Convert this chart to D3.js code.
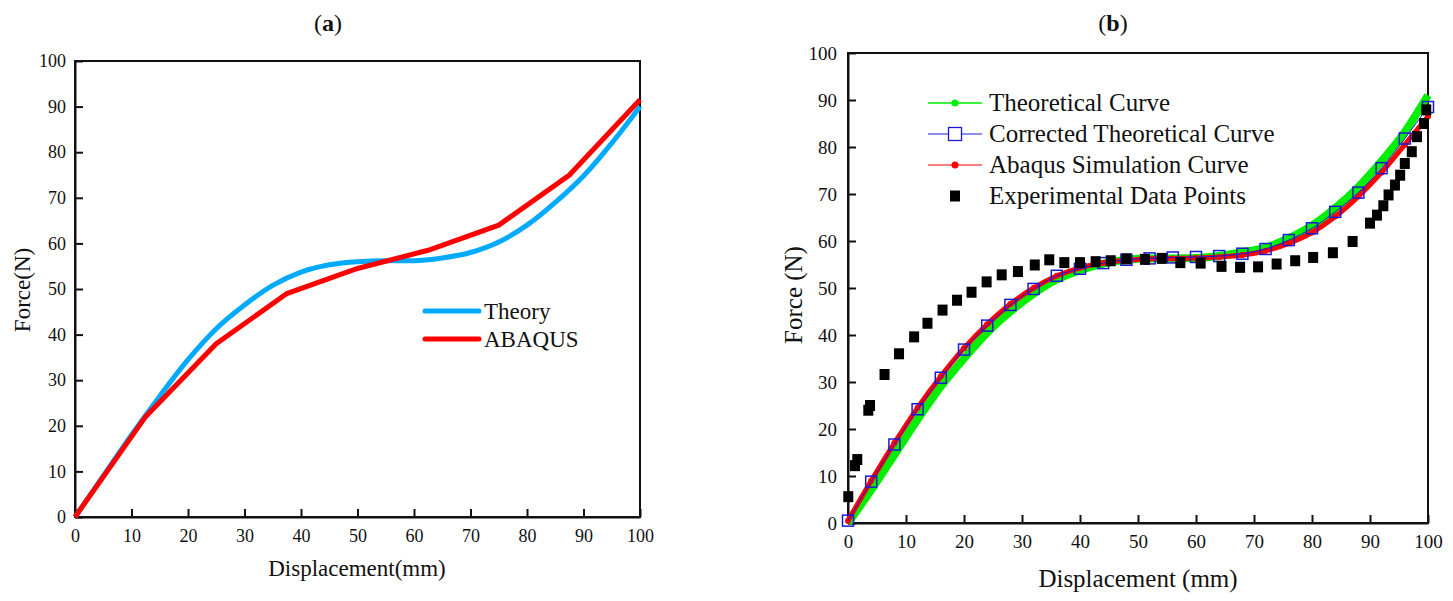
<!DOCTYPE html>
<html>
<head>
<meta charset="utf-8">
<script src="https://cdn.jsdelivr.net/npm/d3@7"></script>
<style>
  body { margin: 0; background: #fff; }
  svg text { font-family: "Liberation Serif", "Times New Roman", Times, "DejaVu Serif", serif !important; fill: #111; }
</style>
</head>
<body>
<svg id="chart" width="1453" height="601"></svg>
<script>
// ---- panel (a) data ----
const theoryX = [0, 5, 10, 15, 20, 25, 30, 35, 40, 45, 50, 55, 60, 65, 70, 75, 80, 85, 90, 95, 100];
const theoryY = [0, 9, 18, 26.5, 34.5, 41.3, 46.5, 50.8, 53.7, 55.3, 56, 56.2, 56.2, 56.8, 58, 60.3, 64, 69, 74.8, 82, 90];
const abaqusX = [0, 12.5, 25, 37.5, 50, 62.5, 75, 87.5, 100];
const abaqusY = [0, 22, 38, 49, 54.5, 58.5, 64, 75, 91.5];

// ---- panel (b) data ----
const dispB = [0, 4, 8, 12, 16, 20, 24, 28, 32, 36, 40, 44, 48, 52, 56, 60, 64, 68, 72, 76, 80, 84, 88, 92, 96, 100];
const theoreticalB = [0, 7, 14.5, 22, 29, 35, 40.5, 45, 48.8, 51.8, 53.8, 55.2, 56, 56.3, 56.3, 56.4, 56.8, 57.6, 58.6, 60.6, 63.3, 67, 71.5, 77, 83.2, 91];
const correctedB = [0.5, 8.8, 16.7, 24.2, 30.9, 36.9, 42.0, 46.4, 49.8, 52.6, 54.1, 55.3, 56, 56.3, 56.5, 56.6, 56.8, 57.3, 58.3, 60.2, 62.7, 66.2, 70.3, 75.5, 81.8, 88.5];
const simulationB = [0.5, 9, 17, 24.5, 31.2, 37.2, 42.3, 46.6, 50, 52.6, 54.3, 55.3, 55.9, 56.2, 56.3, 56.4, 56.6, 57, 57.9, 59.5, 61.8, 65.2, 69.5, 74.6, 80.5, 86.5];
const expX = [0.05, 1.2, 1.6, 3.5, 3.8, 6.3, 8.8, 11.4, 13.7, 16.3, 18.8, 21.3, 23.9, 26.5, 29.3, 32.2, 34.7, 37.3, 40.0, 42.7, 45.3, 48.0, 51.2, 54.1, 57.3, 60.8, 64.4, 67.6, 70.7, 73.9, 77.1, 80.2, 83.6, 87.0, 90.0, 91.2, 92.3, 93.2, 94.3, 95.2, 96.0, 97.2, 98.1, 99.3, 99.7];
const expY = [5.6, 12.2, 13.5, 24, 25, 31.6, 36.0, 39.6, 42.5, 45.3, 47.4, 49.1, 51.3, 52.8, 53.5, 54.9, 56.0, 55.4, 55.4, 55.6, 55.8, 56.2, 56.1, 56.3, 55.4, 55.3, 54.6, 54.4, 54.5, 55.1, 55.8, 56.5, 57.5, 59.9, 63.8, 65.5, 67.5, 69.8, 71.9, 74.0, 76.5, 79.0, 82.2, 85.0, 87.9];

const ticks = [0, 10, 20, 30, 40, 50, 60, 70, 80, 90, 100];
const SERIF = '"Liberation Serif", "Times New Roman", Times, "DejaVu Serif", serif';

const svg = d3.select("#chart").attr("font-family", SERIF);

function frame(g, x, y, w, h, fs, padX, padY) {
  g.append("g")
    .attr("transform", "translate(0," + h + ")")
    .call(d3.axisBottom(x).tickValues(ticks).tickSizeInner(-8).tickSizeOuter(0).tickPadding(padX).tickFormat(d3.format("d")))
    .call(a => a.selectAll("text").attr("font-size", fs).attr("fill", "#222"));
  g.append("g")
    .call(d3.axisLeft(y).tickValues(ticks).tickSizeInner(-8).tickSizeOuter(0).tickPadding(padY).tickFormat(d3.format("d")))
    .call(a => a.selectAll("text").attr("font-size", fs).attr("fill", "#222"));
  g.selectAll("g").attr("font-family", SERIF);
  g.selectAll(".domain, .tick line").attr("stroke", "#111").attr("stroke-width", 2);
  g.append("rect").attr("width", w).attr("height", h)
    .attr("fill", "none").attr("stroke", "#111").attr("stroke-width", 2);
}

// ================= panel (a) =================
{
  const L = 75, T = 61, W = 565, H = 456;
  const g = svg.append("g").attr("transform", "translate(" + L + "," + T + ")");
  const x = d3.scaleLinear().domain([0, 100]).range([0, W]);
  const y = d3.scaleLinear().domain([0, 100]).range([H, 0]);

  frame(g, x, y, W, H, 18, 12, 9);

  const lineT = d3.line().x((d, i) => x(theoryX[i])).y(d => y(d)).curve(d3.curveMonotoneX);
  g.append("path").datum(theoryY).attr("d", lineT)
    .attr("fill", "none").attr("stroke", "#00aaff").attr("stroke-width", 5);

  const lineA = d3.line().x((d, i) => x(abaqusX[i])).y(d => y(d));
  g.append("path").datum(abaqusY).attr("d", lineA)
    .attr("fill", "none").attr("stroke", "#ff0000").attr("stroke-width", 5);

  // legend
  const leg = [["Theory", "#00aaff"], ["ABAQUS", "#ff0000"]];
  leg.forEach((d, i) => {
    const ly = 311 - T + i * 28;
    g.append("line").attr("x1", 425 - L).attr("x2", 479 - L).attr("y1", ly).attr("y2", ly)
      .attr("stroke", d[1]).attr("stroke-width", 5).attr("stroke-linecap", "round");
    g.append("text").attr("x", 484 - L).attr("y", ly + 8).attr("font-size", 23).text(d[0]);
  });

  svg.append("text").attr("x", 357).attr("y", 576).attr("text-anchor", "middle")
    .attr("font-size", 23).text("Displacement(mm)");
  svg.append("text").attr("transform", "translate(30,290) rotate(-90)").attr("text-anchor", "middle")
    .attr("font-size", 23).text("Force(N)");
  const ta = svg.append("text").attr("x", 328).attr("y", 31).attr("text-anchor", "middle").attr("font-size", 24);
  ta.append("tspan").text("(");
  ta.append("tspan").attr("font-weight", "bold").text("a");
  ta.append("tspan").text(")");
}

// ================= panel (b) =================
{
  const L = 848, T = 53, W = 580, H = 470;
  const g = svg.append("g").attr("transform", "translate(" + L + "," + T + ")");
  const x = d3.scaleLinear().domain([0, 100]).range([0, W]);
  const y = d3.scaleLinear().domain([0, 100]).range([H, 0]);

  frame(g, x, y, W, H, 19, 12, 11);

  const line = d3.line().x((d, i) => x(dispB[i])).y(d => y(d)).curve(d3.curveMonotoneX);

  g.append("path").datum(theoreticalB).attr("d", line)
    .attr("fill", "none").attr("stroke", "#00ee00").attr("stroke-width", 8);

  g.append("path").datum(simulationB).attr("d", line)
    .attr("fill", "none").attr("stroke", "#ff0000").attr("stroke-width", 5);
  g.selectAll("circle.sim").data(simulationB).enter().append("circle")
    .attr("class", "sim")
    .attr("cx", (d, i) => x(dispB[i])).attr("cy", d => y(d)).attr("r", 3)
    .attr("fill", "#ff0000");

  g.append("path").datum(correctedB).attr("d", line)
    .attr("fill", "none").attr("stroke", "#1a1ad6").attr("stroke-width", 1);
  g.selectAll("rect.cor").data(correctedB).enter().append("rect")
    .attr("class", "cor")
    .attr("x", (d, i) => x(dispB[i]) - 5.5).attr("y", d => y(d) - 5.5)
    .attr("width", 11).attr("height", 11)
    .attr("fill", "none").attr("stroke", "#1a1ad6").attr("stroke-width", 1.5);

  g.selectAll("rect.exp").data(expY).enter().append("rect")
    .attr("class", "exp")
    .attr("x", (d, i) => x(expX[i]) - 5).attr("y", d => y(d) - 5.5)
    .attr("width", 10).attr("height", 11)
    .attr("fill", "#000");

  // legend
  const items = ["Theoretical Curve", "Corrected Theoretical Curve", "Abaqus Simulation Curve", "Experimental Data Points"];
  const ly = [103, 134, 165, 196];
  const lx1 = 928 - L, lx2 = 982 - L, mx = 955 - L;
  // green
  g.append("line").attr("x1", lx1).attr("x2", lx2).attr("y1", ly[0] - T).attr("y2", ly[0] - T).attr("stroke", "#00ee00").attr("stroke-width", 1.3);
  g.append("circle").attr("cx", mx).attr("cy", ly[0] - T).attr("r", 3.5).attr("fill", "#00ee00");
  // blue
  g.append("line").attr("x1", lx1).attr("x2", lx2).attr("y1", ly[1] - T).attr("y2", ly[1] - T).attr("stroke", "#1a1ad6").attr("stroke-width", 1);
  g.append("rect").attr("x", mx - 6.5).attr("y", ly[1] - T - 6.5).attr("width", 13).attr("height", 13)
    .attr("fill", "#fff").attr("stroke", "#1a1ad6").attr("stroke-width", 1.3);
  // red
  g.append("line").attr("x1", lx1).attr("x2", lx2).attr("y1", ly[2] - T).attr("y2", ly[2] - T).attr("stroke", "#ff0000").attr("stroke-width", 1);
  g.append("circle").attr("cx", mx).attr("cy", ly[2] - T).attr("r", 3.5).attr("fill", "#ff0000");
  // black
  g.append("rect").attr("x", mx - 5).attr("y", ly[3] - T - 5.5).attr("width", 10).attr("height", 11).attr("fill", "#000");
  items.forEach((t, i) => {
    g.append("text").attr("x", 989 - L).attr("y", ly[i] - T + 8).attr("font-size", 25).text(t);
  });

  svg.append("text").attr("x", 1138).attr("y", 587).attr("text-anchor", "middle")
    .attr("font-size", 25).text("Displacement (mm)");
  svg.append("text").attr("transform", "translate(802,295) rotate(-90)").attr("text-anchor", "middle")
    .attr("font-size", 25).text("Force (N)");
  const tb = svg.append("text").attr("x", 1113).attr("y", 31).attr("text-anchor", "middle").attr("font-size", 24);
  tb.append("tspan").text("(");
  tb.append("tspan").attr("font-weight", "bold").text("b");
  tb.append("tspan").text(")");
}
</script>
</body>
</html>
